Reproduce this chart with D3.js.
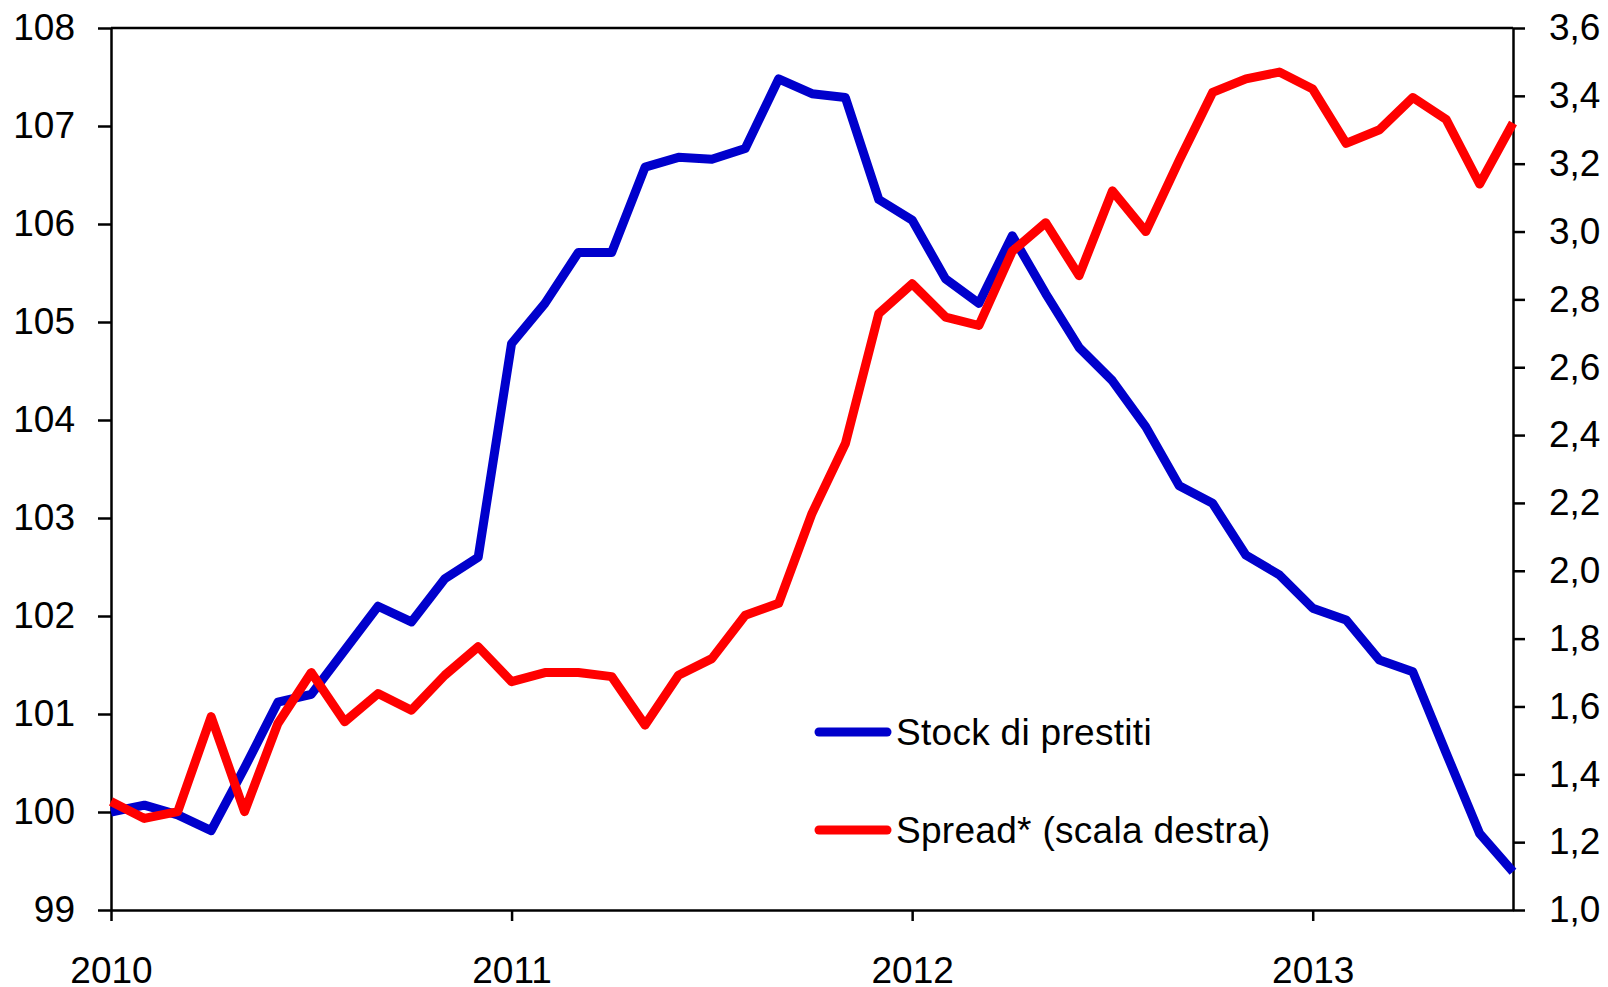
<!DOCTYPE html>
<html lang="it">
<head>
<meta charset="UTF-8">
<title>Stock di prestiti e spread</title>
<script src="https://d3js.org/d3.v7.min.js"></script>
<style>
  html, body { margin: 0; padding: 0; background: #fff; }
  svg text { font-family: "Liberation Sans", Arial, sans-serif; font-size: 37px; fill: #000; }
</style>
</head>
<body>
<svg id="chart"></svg>
<script>
// monthly observations, Jan 2010 - Jul 2013
const months = [
  "2010-01","2010-02","2010-03","2010-04","2010-05","2010-06","2010-07","2010-08","2010-09","2010-10","2010-11","2010-12",
  "2011-01","2011-02","2011-03","2011-04","2011-05","2011-06","2011-07","2011-08","2011-09","2011-10","2011-11","2011-12",
  "2012-01","2012-02","2012-03","2012-04","2012-05","2012-06","2012-07","2012-08","2012-09","2012-10","2012-11","2012-12",
  "2013-01","2013-02","2013-03","2013-04","2013-05","2013-06","2013-07"
];
// Stock di prestiti (left axis)
const stock = [
  100.0, 100.07, 99.97, 99.81, 100.45, 101.12, 101.2, 101.65, 102.1, 101.94, 102.38, 102.6,
  104.78, 105.19, 105.71, 105.71, 106.58, 106.68, 106.66, 106.77, 107.48, 107.33, 107.29, 106.25,
  106.04, 105.44, 105.19, 105.88, 105.29, 104.74, 104.4, 103.93, 103.33, 103.15, 102.62, 102.42,
  102.08, 101.96, 101.55, 101.43, 100.6, 99.78, 99.39
];
// Spread* (right axis)
const spread = [
  1.32, 1.27, 1.29, 1.57, 1.29, 1.55, 1.70, 1.555, 1.638, 1.589, 1.692, 1.776,
  1.673, 1.70, 1.70, 1.688, 1.545, 1.692, 1.741, 1.869, 1.904, 2.169, 2.375, 2.758,
  2.846, 2.748, 2.723, 2.942, 3.026, 2.87, 3.12, 3.0, 3.21, 3.41, 3.45, 3.47,
  3.42, 3.26, 3.30, 3.395, 3.33, 3.14, 3.32
];
const yearTicks = ["2010", "2011", "2012", "2013"];
const leftTicks = [99, 100, 101, 102, 103, 104, 105, 106, 107, 108];
const rightTicks = [1.0, 1.2, 1.4, 1.6, 1.8, 2.0, 2.2, 2.4, 2.6, 2.8, 3.0, 3.2, 3.4, 3.6];
const seriesNames = ["Stock di prestiti", "Spread* (scala destra)"];
const colors = ["#0000cc", "#ff0000"];

const W = 1608, H = 987;
const plot = { left: 111, right: 1513, top: 28, bottom: 910 };

const svg = d3.select("#chart").attr("width", W).attr("height", H);

const x = d3.scaleLinear().domain([0, months.length - 1]).range([plot.left, plot.right]);
const yL = d3.scaleLinear().domain([99, 108]).range([plot.bottom, plot.top]);
const yR = d3.scaleLinear().domain([1.0, 3.6]).range([plot.bottom, plot.top]);

const commaFmt = d => d3.format(".1f")(d).replace(".", ",");

// left axis
const axL = svg.append("g")
  .attr("transform", "translate(" + plot.left + ",0)")
  .call(d3.axisLeft(yL).tickValues(leftTicks).tickSize(13).tickSizeOuter(0).tickPadding(23));

// right axis
const axR = svg.append("g")
  .attr("transform", "translate(" + plot.right + ",0)")
  .call(d3.axisRight(yR).tickValues(rightTicks).tickFormat(commaFmt).tickSize(12).tickSizeOuter(0).tickPadding(24));

// bottom axis, ticks at January of each year
const axB = svg.append("g")
  .attr("transform", "translate(0," + plot.bottom + ")")
  .call(d3.axisBottom(x)
    .tickValues(yearTicks.map(yr => months.indexOf(yr + "-01")))
    .tickFormat(i => months[i].slice(0, 4))
    .tickSize(11).tickSizeOuter(0).tickPadding(36));

[axL, axR, axB].forEach(a => {
  a.selectAll("path, line").attr("stroke", "#000").attr("stroke-width", 2.5);
  a.selectAll("text").attr("font-size", "37px").attr("font-family", "'Liberation Sans', Arial, sans-serif").attr("fill", "#000");
});

// top border
svg.append("line")
  .attr("x1", plot.left).attr("x2", plot.right)
  .attr("y1", plot.top).attr("y2", plot.top)
  .attr("stroke", "#000").attr("stroke-width", 2.5);

// series
const idx = d3.range(months.length);
const lineL = d3.line().x(i => x(i)).y(i => yL(stock[i]));
const lineR = d3.line().x(i => x(i)).y(i => yR(spread[i]));

svg.append("path").datum(idx)
  .attr("d", lineL)
  .attr("fill", "none").attr("stroke", colors[0]).attr("stroke-width", 9)
  .attr("stroke-linejoin", "round");

svg.append("path").datum(idx)
  .attr("d", lineR)
  .attr("fill", "none").attr("stroke", colors[1]).attr("stroke-width", 9)
  .attr("stroke-linejoin", "round");

// legend
const legend = svg.append("g").attr("transform", "translate(817,732)");
seriesNames.forEach((name, k) => {
  const g = legend.append("g").attr("transform", "translate(0," + k * 98 + ")");
  g.append("line")
    .attr("x1", 2).attr("x2", 70).attr("y1", 0).attr("y2", 0)
    .attr("stroke", colors[k]).attr("stroke-width", 9).attr("stroke-linecap", "round");
  g.append("text")
    .attr("x", 79).attr("y", 0).attr("dy", "0.35em")
    .attr("letter-spacing", "0.3px")
    .text(name);
});
</script>
</body>
</html>
